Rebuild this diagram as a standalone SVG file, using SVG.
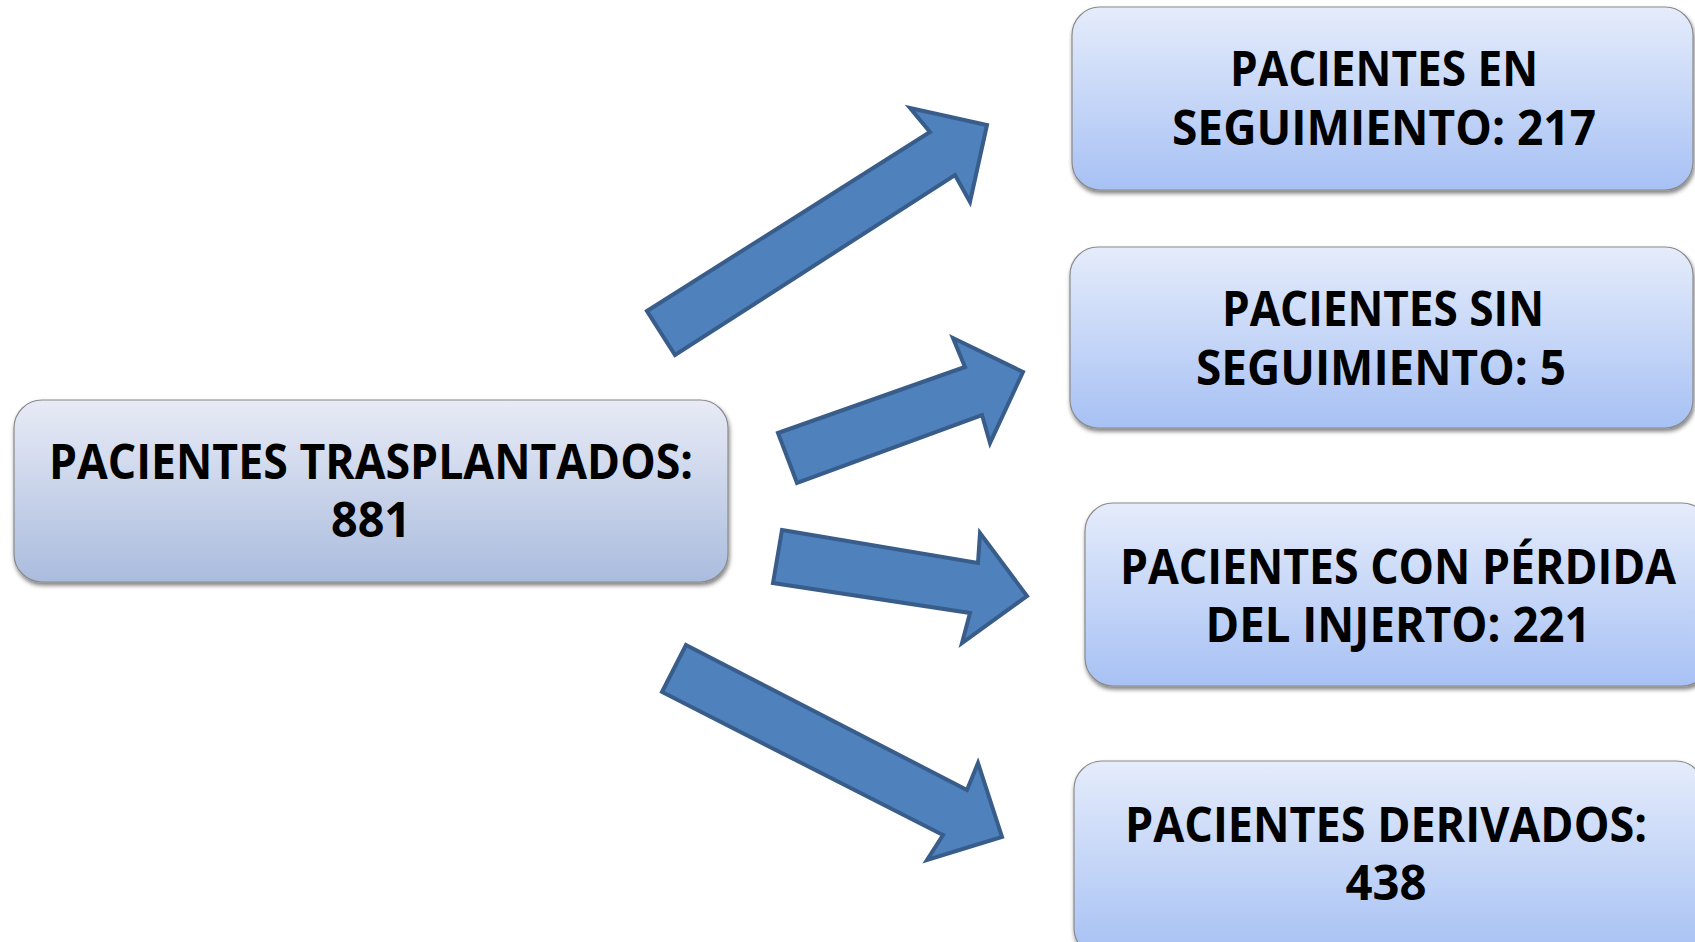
<svg xmlns="http://www.w3.org/2000/svg" width="1695" height="942" viewBox="0 0 1695 942">
<defs>
<linearGradient id="gl" x1="0" y1="0" x2="0" y2="1">
<stop offset="0" stop-color="#E8EBF6"/>
<stop offset="1" stop-color="#AABCDE"/>
</linearGradient>
<linearGradient id="gr" x1="0" y1="0" x2="0" y2="1">
<stop offset="0" stop-color="#E5ECFB"/>
<stop offset="1" stop-color="#A7C1F4"/>
</linearGradient>
<filter id="sh" x="-5%" y="-5%" width="110%" height="120%">
<feDropShadow dx="1" dy="3" stdDeviation="2" flood-color="#000" flood-opacity="0.5"/>
</filter>
</defs>
<style>
.box{stroke:#8A8A8A;stroke-width:1.2;filter:url(#sh)}
.t{font-family:"Open Sans","Liberation Sans",sans-serif;font-weight:700;font-size:48px;fill:#000;text-anchor:middle}
.arr{fill:#4F81BD;stroke:#385D8A;stroke-width:4;stroke-linejoin:miter}
</style>
<rect width="1695" height="942" fill="#fff"/>
<g id="connectors">
<polygon class="arr" points="647,311 930,132 910,108 987,125 970,202 955,175 675,355"/>
<polygon class="arr" points="778,433 965,367 953,338 1023,372 990,443 982,415 797,483"/>
<polygon class="arr" points="782,530 978,563 980,533 1027,596 962,643 970,613 773,583"/>
<polygon class="arr" points="686,645 967,790 978,763 1002,837 927,860 943,835 662,692"/>
</g>
<g id="n-trasplantados">
<rect class="box" x="14" y="400" width="714" height="182" rx="28" fill="url(#gl)"/>
<text class="t" x="371" y="479" textLength="644" lengthAdjust="spacingAndGlyphs">PACIENTES TRASPLANTADOS:</text>
<text class="t" x="371" y="537" textLength="80" lengthAdjust="spacingAndGlyphs">881</text>
</g>
<g id="n-seguimiento">
<rect class="box" x="1072" y="7" width="621" height="183" rx="28" fill="url(#gr)"/>
<text class="t" x="1384" y="86" textLength="308" lengthAdjust="spacingAndGlyphs">PACIENTES EN</text>
<text class="t" x="1384" y="145" textLength="424" lengthAdjust="spacingAndGlyphs">SEGUIMIENTO: 217</text>
</g>
<g id="n-sin-seguimiento">
<rect class="box" x="1070" y="247" width="623" height="181" rx="28" fill="url(#gr)"/>
<text class="t" x="1383" y="326" textLength="322" lengthAdjust="spacingAndGlyphs">PACIENTES SIN</text>
<text class="t" x="1381" y="385" textLength="370" lengthAdjust="spacingAndGlyphs">SEGUIMIENTO: 5</text>
</g>
<g id="n-perdida">
<rect class="box" x="1085" y="503" width="625" height="183" rx="28" fill="url(#gr)"/>
<text class="t" x="1398" y="584" textLength="556" lengthAdjust="spacingAndGlyphs">PACIENTES CON PÉRDIDA</text>
<text class="t" x="1398" y="642" textLength="385" lengthAdjust="spacingAndGlyphs">DEL INJERTO: 221</text>
</g>
<g id="n-derivados">
<rect class="box" x="1074" y="761" width="630" height="195" rx="28" fill="url(#gr)"/>
<text class="t" x="1386" y="842" textLength="522" lengthAdjust="spacingAndGlyphs">PACIENTES DERIVADOS:</text>
<text class="t" x="1386" y="900" textLength="81" lengthAdjust="spacingAndGlyphs">438</text>
</g>
</svg>
